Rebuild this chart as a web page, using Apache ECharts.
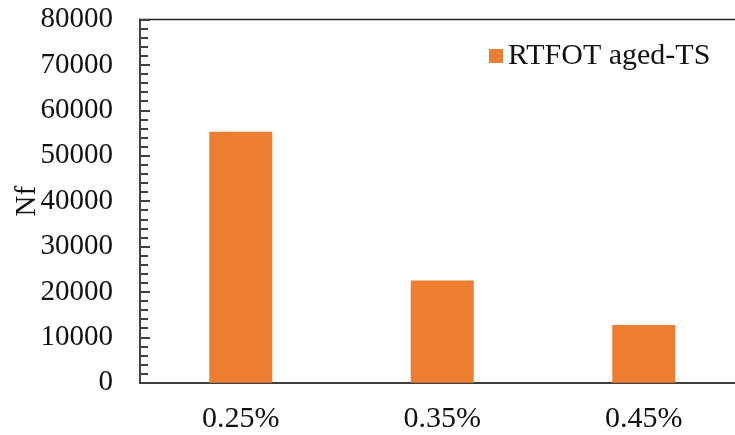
<!DOCTYPE html>
<html><head><meta charset="utf-8">
<script src="https://cdn.jsdelivr.net/npm/echarts@6/dist/echarts.min.js"></script>
<style>html,body{margin:0;padding:0;background:#fff}#c{width:735px;height:435px}</style>
</head><body><div id="c"></div>
<script>
const categories = ['0.25%', '0.35%', '0.45%'];
const seriesName = 'RTFOT aged-TS';
const values = [55300, 22500, 12700];
const yTicks = { min: 0, max: 80000, interval: 10000 };

const font = 'Liberation Serif, Times New Roman, serif';
const chart = echarts.init(document.getElementById('c'), null, {renderer: 'canvas'});
chart.setOption({
  animation: false,
  backgroundColor: '#fff',
  grid: { left: 140, top: 19.5, right: -9.5, bottom: 52.3, show: true, borderColor: '#222', borderWidth: 1.5, backgroundColor: 'transparent', outerBoundsMode: 'none', containLabel: false },
  legend: {
    data: [seriesName], left: 484, top: 36, itemWidth: 14, itemHeight: 14, itemGap: 6,
    icon: 'rect',
    textStyle: { fontFamily: font, fontSize: 30, color: '#111' }
  },
  xAxis: {
    type: 'category', data: categories,
    axisLine: { lineStyle: { color: '#404040', width: 2 } },
    axisTick: { show: false },
    axisLabel: { fontFamily: font, fontSize: 30, color: '#111', margin: 21 }
  },
  yAxis: {
    type: 'value', min: yTicks.min, max: yTicks.max, interval: yTicks.interval,
    name: 'Nf', nameLocation: 'middle', nameGap: 98, nameMoveOverlap: false,
    nameTextStyle: { fontFamily: font, fontSize: 29, color: '#111' },
    axisLine: { show: true, lineStyle: { color: '#404040', width: 2 } },
    axisTick: { show: true, inside: true, length: 10, lineStyle: { color: '#404040', width: 2 } },
    minorTick: { show: true, splitNumber: 5, length: 8, lineStyle: { color: '#404040', width: 2 } },
    splitLine: { show: false },
    axisLabel: { fontFamily: font, fontSize: 29, color: '#111', margin: 27, formatter: v => String(v) }
  },
  series: [{
    name: seriesName, type: 'bar', data: values, barWidth: 63,
    itemStyle: { color: '#ED7D31' }
  }]
});
</script></body></html>
